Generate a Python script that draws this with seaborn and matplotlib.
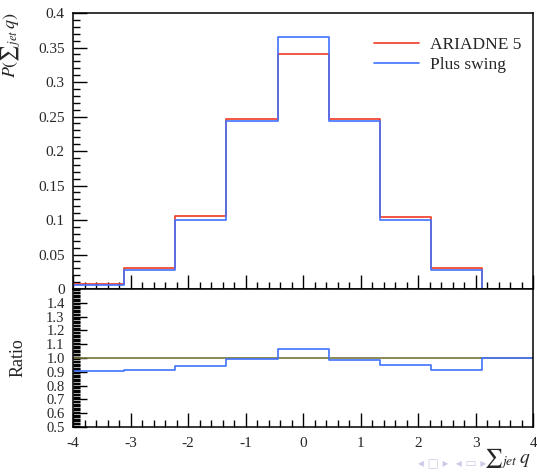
import matplotlib
matplotlib.use("Agg")
import matplotlib.pyplot as plt
from matplotlib.ticker import MultipleLocator, FixedLocator, FuncFormatter
import numpy as np
import pandas as pd
import seaborn as sns

# Histogram binning of the summed jet charge
bin_edges = [-4.0, -3.111, -2.222, -1.333, -0.444, 0.444, 1.333, 2.222, 3.111, 4.0]
bin_centres = [-3.556, -2.667, -1.778, -0.889, 0.0, 0.889, 1.778, 2.667, 3.556]

# Normalised distributions
ariadne = [0.0073, 0.030, 0.1056, 0.2458, 0.3413, 0.2463, 0.1042, 0.030, 0.0]
swing = [0.0058, 0.0276, 0.1004, 0.2438, 0.3646, 0.2430, 0.0994, 0.0276, 0.0]

# Ratio to the ARIADNE 5 reference
ratio_ref = [1.0, 1.0, 1.0, 1.0, 1.0, 1.0, 1.0, 1.0, 1.0]
ratio_swing = [0.905, 0.916, 0.942, 0.995, 1.068, 0.988, 0.947, 0.910, 1.0]

x_ticks = [-4, -3, -2, -1, 0, 1, 2, 3, 4]
ratio_ticks = [0.5, 0.6, 0.7, 0.8, 0.9, 1.0, 1.1, 1.2, 1.3, 1.4]

RED = "#f03a22"
BLUE = "#4272ff"
OLIVE = "#76763a"

sns.set_theme(style="ticks")
plt.rcParams["font.family"] = ["Liberation Serif", "DejaVu Serif"]
plt.rcParams["mathtext.fontset"] = "stix"

df = pd.DataFrame({"centre": bin_centres, "ariadne": ariadne, "swing": swing,
                   "ratio_ref": ratio_ref, "ratio_swing": ratio_swing})

fig = plt.figure(figsize=(5.37, 4.73), dpi=100)
ax = fig.add_axes([0.136, 0.389, 0.857, 0.5835])
axr = fig.add_axes([0.136, 0.0973, 0.857, 0.2917], sharex=ax)

step_kw = dict(bins=bin_edges, element="step", fill=False, linewidth=1.2)
sns.histplot(data=df, x="centre", weights="ariadne", color=RED, label="ARIADNE 5", ax=ax, **step_kw)
sns.histplot(data=df, x="centre", weights="swing", color=BLUE, label="Plus swing", ax=ax, **step_kw)

sns.histplot(data=df, x="centre", weights="ratio_ref", color=OLIVE, ax=axr, **step_kw)
sns.histplot(data=df, x="centre", weights="ratio_swing", color=BLUE, ax=axr, **step_kw)

ax.set_xlim(-4, 4)
ax.set_ylim(0, 0.4)
axr.set_ylim(0.5, 1.5)

for a in (ax, axr):
    for s in a.spines.values():
        s.set_linewidth(1.1)
        s.set_color("black")
    a.tick_params(which="both", direction="in", top=False, right=False,
                  labelsize=11, width=1.0, color="black")
    a.tick_params(which="major", length=10, pad=6)
    a.tick_params(which="minor", length=5)
    a.xaxis.set_major_locator(FixedLocator(x_ticks))
    a.xaxis.set_minor_locator(MultipleLocator(0.2))

ax.yaxis.set_major_locator(MultipleLocator(0.05))
ax.yaxis.set_minor_locator(MultipleLocator(0.01))
ax.yaxis.set_major_formatter(FuncFormatter(lambda v, p: "%g" % round(v, 2)))
ax.tick_params(axis="x", labelbottom=False)
ax.set_xlabel("")
ax.set_ylabel(r"$P({\sum}_{jet}\, q)$", fontsize=13)
ax.yaxis.set_label_coords(-0.108, 0.885)

axr.yaxis.set_major_locator(FixedLocator(ratio_ticks))
axr.yaxis.set_minor_locator(MultipleLocator(0.01))
axr.yaxis.set_major_formatter(FuncFormatter(lambda v, p: "%.1f" % v))
axr.xaxis.set_major_formatter(FuncFormatter(lambda v, p: "%d" % v))
axr.tick_params(axis="y", labelsize=10.5)
axr.tick_params(axis="x", pad=7)
axr.set_ylabel("Ratio", fontsize=13)
axr.yaxis.set_label_coords(-0.102, 0.5)
axr.set_xlabel(r"${\sum}_{jet}\, q$", fontsize=14, loc="right")
axr.xaxis.set_label_coords(0.995, -0.14)

ax.legend(loc="upper left", bbox_to_anchor=(0.62, 0.97), frameon=False,
          fontsize=12.5, handlelength=2.6, handletextpad=0.6, labelspacing=0.2)

# navigation glyphs in the slide corner
fig.text(0.905, 0.006, "◂ □ ▸  ◂ ▭ ▸", fontsize=8.5, color="#c9c9e8",
         family="DejaVu Sans", ha="right", va="bottom")

fig.savefig("out.png", dpi=100)
